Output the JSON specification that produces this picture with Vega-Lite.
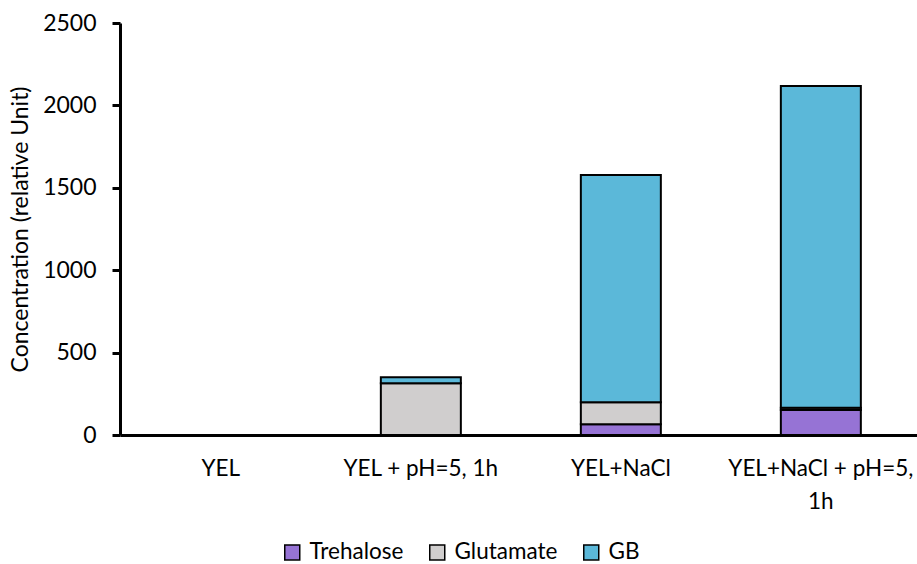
{
  "$schema": "https://vega.github.io/schema/vega-lite/v6.json",
  "width": 797,
  "height": 412,
  "autosize": {"type": "none"},
  "padding": {"left": 120, "top": 23, "right": 0, "bottom": 129},
  "background": "white",
  "config": {
    "view": {"stroke": null},
    "font": "Lato",
    "axis": {"labelFont": "Lato", "titleFont": "Lato", "labelColor": "#000", "titleColor": "#000"},
    "legend": {"labelFont": "Lato", "labelColor": "#000"}
  },
  "data": {
    "values": [
      {"condition": "YEL", "compound": "Trehalose", "order": 1, "value": 0},
      {"condition": "YEL", "compound": "Glutamate", "order": 2, "value": 0},
      {"condition": "YEL", "compound": "GB", "order": 3, "value": 0},
      {"condition": "YEL + pH=5, 1h", "compound": "Trehalose", "order": 1, "value": 0},
      {"condition": "YEL + pH=5, 1h", "compound": "Glutamate", "order": 2, "value": 314},
      {"condition": "YEL + pH=5, 1h", "compound": "GB", "order": 3, "value": 36},
      {"condition": "YEL+NaCl", "compound": "Trehalose", "order": 1, "value": 65},
      {"condition": "YEL+NaCl", "compound": "Glutamate", "order": 2, "value": 133},
      {"condition": "YEL+NaCl", "compound": "GB", "order": 3, "value": 1380},
      {"condition": "YEL+NaCl + pH=5, 1h", "compound": "Trehalose", "order": 1, "value": 152},
      {"condition": "YEL+NaCl + pH=5, 1h", "compound": "Glutamate", "order": 2, "value": 14},
      {"condition": "YEL+NaCl + pH=5, 1h", "compound": "GB", "order": 3, "value": 1952}
    ]
  },
  "transform": [{"filter": "datum.value > 0"}],
  "mark": {"type": "bar", "stroke": "#000", "strokeWidth": 2},
  "encoding": {
    "x": {
      "field": "condition",
      "type": "nominal",
      "sort": ["YEL", "YEL + pH=5, 1h", "YEL+NaCl", "YEL+NaCl + pH=5, 1h"],
      "scale": {"domain": ["YEL", "YEL + pH=5, 1h", "YEL+NaCl", "YEL+NaCl + pH=5, 1h"], "paddingInner": 0.6, "paddingOuter": 0.2925, "align": 0.52},
      "axis": {
        "title": null,
        "labelAngle": 0,
        "labelFontSize": 22.5,
        "labelPadding": 22,
        "labelLineHeight": 33,
        "labelExpr": "datum.value == 'YEL+NaCl + pH=5, 1h' ? ['YEL+NaCl + pH=5,', '1h'] : datum.value",
        "ticks": false,
        "domainColor": "#000",
        "domainWidth": 3,
        "labelLimit": 0
      }
    },
    "y": {
      "field": "value",
      "type": "quantitative",
      "stack": "zero",
      "scale": {"domain": [0, 2500]},
      "axis": {
        "title": "Concentration (relative Unit)",
        "titleFontSize": 23,
        "titleFontWeight": "normal",
        "titlePadding": 10,
        "labelFontSize": 23,
        "labelPadding": 16,
        "format": "d",
        "values": [0, 500, 1000, 1500, 2000, 2500],
        "grid": false,
        "tickSize": 8,
        "tickColor": "#000",
        "tickWidth": 3,
        "domainColor": "#000",
        "domainWidth": 3
      }
    },
    "color": {
      "field": "compound",
      "type": "nominal",
      "scale": {"domain": ["Trehalose", "Glutamate", "GB"], "range": ["#9673D5", "#D0CECE", "#5BB8D9"]},
      "legend": {
        "title": null,
        "orient": "none",
        "legendX": 161,
        "legendY": 518,
        "direction": "horizontal",
        "symbolType": "square",
        "symbolSize": 225,
        "symbolStrokeColor": "#000",
        "symbolStrokeWidth": 1.5,
        "labelFontSize": 22.5,
        "labelOffset": 6,
        "labelLimit": 400,
        "columnPadding": 22
      }
    },
    "order": {"field": "order", "type": "quantitative"}
  }
}
